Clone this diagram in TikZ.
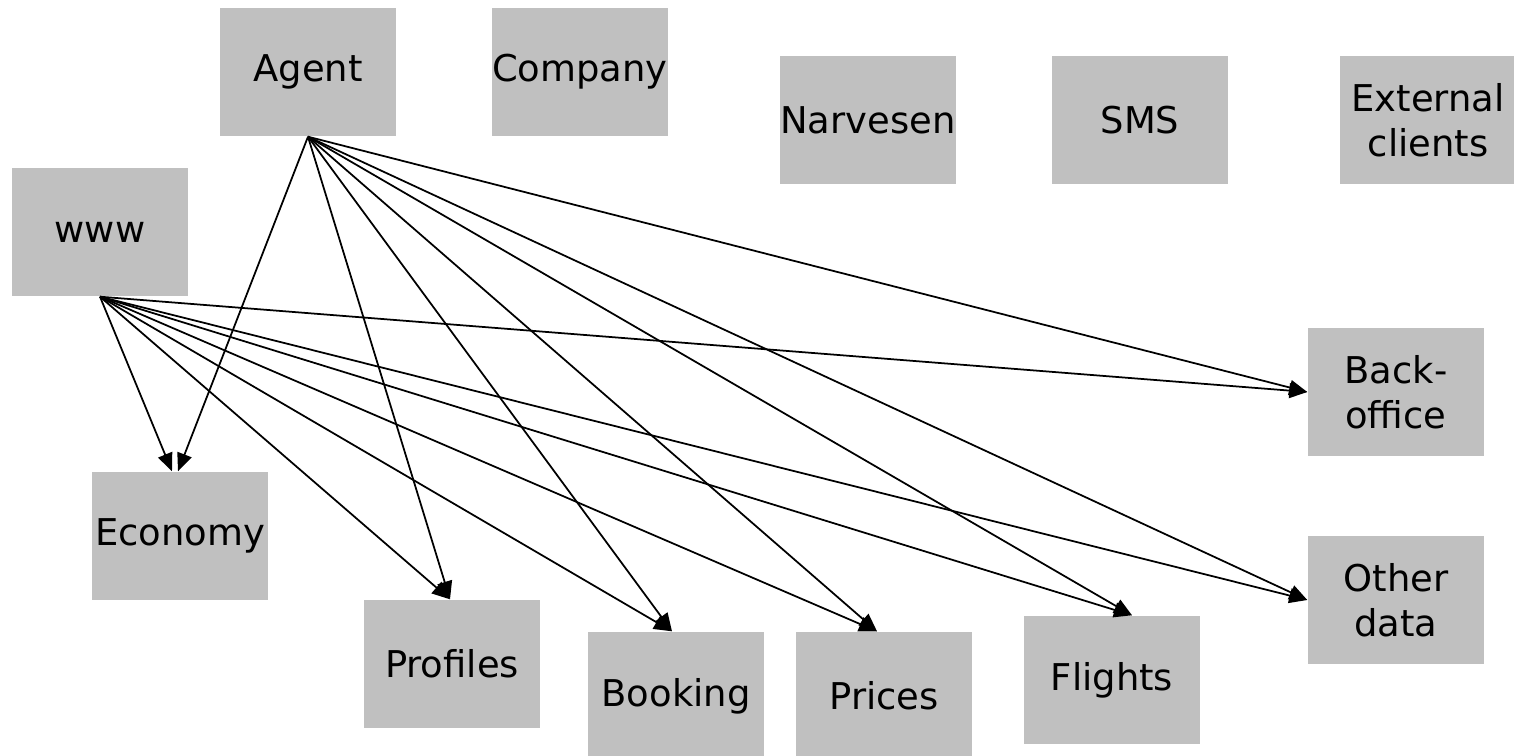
\documentclass[tikz,border=0pt]{standalone}
\usepackage{fontspec}
\setmainfont{DejaVu Sans}
\usetikzlibrary{arrows.meta,positioning}
\definecolor{boxgray}{RGB}{192,192,192}
\begin{document}
\begin{tikzpicture}[
every node/.style = {shape=rectangle, fill=boxgray, align=center,
	minimum width=1.76cm, minimum height=1.28cm, inner sep=0pt,
	font=\fontsize{10.5}{12.8}\selectfont},
link/.style = {-{Triangle[length=1.8mm, width=1.5mm]}, line width=0.5pt}]
\useasboundingbox (0,0) rectangle (15.14,7.55);
\node (agent) at (3.08,6.83) {Agent};
\node (company) at (5.80,6.83) {Company};
\node (narvesen) at (8.68,6.35) {Narvesen};
\node (sms) at (11.40,6.35) {SMS};
\node (external) at (14.28,6.35) {External \\ clients};
\node (www) at (1.00,5.23) {www};
\node (economy) at (1.80,2.19) {Economy};
\node (profiles) at (4.52,0.91) {Profiles};
\node (booking) at (6.76,0.59) {Booking};
\node (prices) at (8.84,0.59) {Prices};
\node (flights) at (11.12,0.75) {Flights};
\node (backoffice) at (13.96,3.63) {Back- \\ office};
\node (otherdata) at (13.96,1.55) {Other \\ data};
\path[link] (agent.south)
	edge ([xshift=-0.02cm]economy.north)
	edge ([xshift=-0.02cm]profiles.north)
	edge ([xshift=-0.04cm]booking.north)
	edge ([xshift=-0.07cm]prices.north)
	edge ([xshift=0.2cm]flights.north)
	edge (otherdata.west)
	edge (backoffice.west);
\path[link] (www.south)
	edge ([xshift=-0.08cm]economy.north)
	edge ([xshift=-0.02cm]profiles.north)
	edge ([xshift=-0.04cm]booking.north)
	edge ([xshift=-0.07cm]prices.north)
	edge ([xshift=0.2cm]flights.north)
	edge (otherdata.west)
	edge (backoffice.west);
\end{tikzpicture}
\end{document}
